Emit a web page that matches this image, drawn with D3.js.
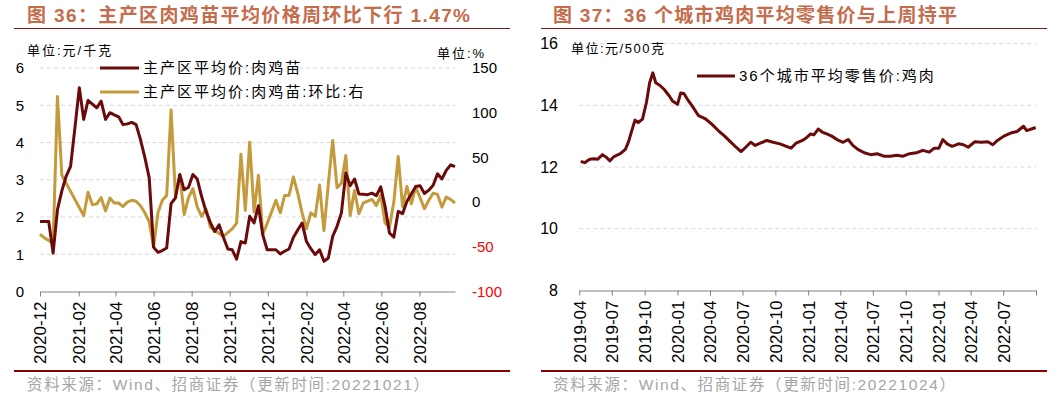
<!DOCTYPE html>
<html>
<head>
<meta charset="utf-8">
<script src="https://cdn.jsdelivr.net/npm/d3@7"></script>
<style>
  body { margin: 0; background: #fff; }
  text { font-family: "Liberation Sans", Arial, "Noto Sans CJK SC", sans-serif; }
</style>
</head>
<body>
<div class="chart"></div>
<script>
// ---- data: left chart (weekly, 主产区肉鸡苗) ----
var chickStart = "2020-12-01";
var chickPrice = [1.88, 1.88, 1.88, 1.03, 2.20, 2.70, 3.10, 3.36, 4.40, 5.47,
                  4.62, 5.13, 5.03, 4.93, 5.11, 4.62, 4.80, 4.74, 4.69, 4.48,
                  4.50, 4.54, 4.48, 4.08, 3.60, 3.05, 1.19, 1.05, 1.10, 1.17,
                  2.36, 2.51, 3.14, 2.73, 2.80, 3.14, 3.02, 2.55, 2.15, 1.85,
                  1.61, 1.79, 1.45, 1.14, 1.12, 0.87, 1.34, 1.30, 2.02, 1.84,
                  2.30, 1.52, 1.12, 1.12, 1.12, 1.01, 1.08, 1.14, 1.45, 1.65,
                  1.84, 1.34, 1.15, 0.99, 1.12, 0.81, 0.90, 1.48, 1.75, 2.11,
                  3.18, 2.84, 3.02, 2.62, 2.61, 2.60, 2.64, 2.57, 2.81, 2.28,
                  1.57, 1.46, 2.15, 2.09, 2.42, 2.62, 2.82, 2.84, 2.63, 2.72,
                  2.85, 3.16, 3.02, 3.25, 3.40, 3.35];
var chickWoW = [-36, -40, -43, -46, 118, 30, 21, 12, 3, -6,
                -15, 11, -3, -2, 5, -10, 4.5, -1, -1, -5,
                0, 2, 1, -4, -12, -22, -50, -12, 2, 7.5,
                103, 7.5, 30, -14, 5, 15, -5.6, -16, -7.4, -28,
                -32, -35, -38.5, -34, -30, -23.5, 53.5, -9.3, 67, -11,
                30, -36, -24, -11, 2, -12, 7.5, 7.5, 28, 10,
                -12, -30, -12, -16, 19, -32, 20, 69, 16, 21,
                52, -15, 13, -13, -1, 1, 3, -4, 7.5, -23.5,
                -28, 0, 51, -5, 17.6, -2, 17, 5, -7.4, 2,
                10, 8.6, -5.6, 5.6, 3, -1];
var leftTicksY = [0, 1, 2, 3, 4, 5, 6];
var rightTicksY = [-100, -50, 0, 50, 100, 150];

// ---- data: right chart (36个城市平均零售价:鸡肉) ----
var retailDates = ["2019-04-05","2019-04-16","2019-04-30","2019-05-13","2019-05-22","2019-06-05","2019-06-15","2019-06-26","2019-07-07","2019-07-25",
                   "2019-08-08","2019-08-17","2019-08-26","2019-09-04","2019-09-13","2019-09-25","2019-10-06","2019-10-15","2019-10-24","2019-11-01",
                   "2019-11-13","2019-11-25","2019-12-09","2019-12-18","2020-01-01","2020-01-10","2020-01-19","2020-01-28","2020-02-11","2020-02-29",
                   "2020-03-18","2020-04-06","2020-04-24","2020-05-12","2020-05-30","2020-06-13","2020-06-27","2020-07-10","2020-07-24","2020-08-06",
                   "2020-08-20","2020-09-07","2020-09-25","2020-10-14","2020-11-01","2020-11-14","2020-11-28","2020-12-16","2020-12-25","2021-01-08",
                   "2021-01-17","2021-01-29","2021-02-11","2021-02-22","2021-03-08","2021-03-27","2021-04-09","2021-04-23","2021-05-06","2021-05-20",
                   "2021-06-07","2021-06-25","2021-07-13","2021-08-01","2021-08-19","2021-09-06","2021-09-24","2021-10-12","2021-10-31","2021-11-18",
                   "2021-12-06","2021-12-20","2022-01-02","2022-01-13","2022-01-25","2022-02-08","2022-02-26","2022-03-12","2022-03-25","2022-04-13",
                   "2022-05-01","2022-05-19","2022-06-02","2022-06-15","2022-07-03","2022-07-22","2022-08-09","2022-08-27","2022-09-05","2022-09-30"];
var retailPrice = [12.18, 12.14, 12.25, 12.27, 12.25, 12.40, 12.32, 12.20, 12.34, 12.43,
                   12.57, 12.82, 13.18, 13.52, 13.44, 13.55, 14.09, 14.73, 15.05, 14.73,
                   14.64, 14.51, 14.30, 14.14, 14.03, 14.40, 14.38, 14.21, 13.98, 13.66,
                   13.57, 13.39, 13.18, 13.00, 12.80, 12.64, 12.50, 12.64, 12.80, 12.70,
                   12.77, 12.86, 12.80, 12.75, 12.67, 12.61, 12.77, 12.86, 12.93, 13.07,
                   13.04, 13.23, 13.12, 13.07, 13.00, 12.86, 12.80, 12.89, 12.70, 12.57,
                   12.46, 12.40, 12.43, 12.35, 12.35, 12.38, 12.35, 12.43, 12.46, 12.54,
                   12.48, 12.61, 12.61, 12.89, 12.75, 12.67, 12.75, 12.72, 12.64, 12.82,
                   12.80, 12.82, 12.72, 12.86, 13.00, 13.10, 13.15, 13.32, 13.18, 13.28];
var retailTicksY = [8, 10, 12, 14, 16];

var parseDate = d3.timeParse("%Y-%m-%d");
var fmtMonth = d3.timeFormat("%Y-%m");

var darkRed = "#6b0a0a",
    gold = "#c49a3c",
    titleColor = "#c46c4c",
    ruleColor = "#7a1a1a",
    footColor = "#a6a6a6";

var svg = d3.select(".chart")
    .append("svg")
    .attr("width", 1064)
    .attr("height", 398);

// weekly dates for the left series
var start = parseDate(chickStart);
var chickData = chickPrice.map(function(v, i) {
  return {date: d3.timeDay.offset(start, 7 * i), price: v, wow: chickWoW[i]};
});
var retailData = retailDates.map(function(d, i) {
  return {date: parseDate(d), price: retailPrice[i]};
});

// common frame: title, rule, footer
function frame(x0, x1, title, source, titleX, titleLen) {
  svg.append("text")
      .attr("x", titleX)
      .attr("y", 22)
      .attr("fill", titleColor)
      .attr("font-size", 19)
      .attr("font-weight", "bold")
      .attr("textLength", titleLen)
      .attr("lengthAdjust", "spacing")
      .text(title);
  svg.append("line")
      .attr("x1", x0).attr("x2", x1)
      .attr("y1", 28.5).attr("y2", 28.5)
      .attr("stroke", ruleColor)
      .attr("stroke-width", 1.2);
  svg.append("line")
      .attr("x1", x0).attr("x2", x1)
      .attr("y1", 371).attr("y2", 371)
      .attr("stroke", "#8b0000")
      .attr("stroke-width", 2);
  svg.append("text")
      .attr("x", titleX)
      .attr("y", 390)
      .attr("fill", footColor)
      .attr("font-size", 15.5)
      .attr("textLength", 402)
      .attr("lengthAdjust", "spacing")
      .text(source);
}

function grid(g, scale, ticks, x0, x1) {
  g.selectAll(".grid")
      .data(ticks)
      .enter().append("line")
      .attr("class", "grid")
      .attr("x1", x0).attr("x2", x1)
      .attr("y1", function(d) { return scale(d); })
      .attr("y2", function(d) { return scale(d); })
      .attr("stroke", "#d9d9d9")
      .attr("stroke-dasharray", "4,3");
}

function xAxisDraw(g, axis, y) {
  var ax = g.append("g")
      .attr("transform", "translate(0," + y + ")")
      .call(axis);
  ax.select(".domain").attr("stroke", "#808080");
  ax.selectAll(".tick line").attr("stroke", "#808080");
  ax.selectAll(".tick text")
      .attr("font-size", 17)
      .attr("fill", "#000")
      .attr("transform", "rotate(-90)")
      .attr("text-anchor", "end")
      .attr("x", -10)
      .attr("y", 0)
      .attr("dy", "0.35em");
}

// ================= left chart =================
frame(14, 510, "图 36：主产区肉鸡苗平均价格周环比下行 1.47%",
      "资料来源：Wind、招商证券（更新时间:20221021）", 27, 443);

var L = svg.append("g");
var xL = d3.scaleTime()
    .domain([parseDate("2020-12-01"), parseDate("2022-09-27")])
    .range([40, 455]);
var yL = d3.scaleLinear().domain([0, 6]).range([291.5, 68]);
var yR = d3.scaleLinear().domain([-100, 150]).range([291.5, 68]);

grid(L, yL, leftTicksY.slice(1), 40, 455);

L.selectAll(".ylab")
    .data(leftTicksY)
    .enter().append("text")
    .attr("class", "ylab")
    .attr("x", 24)
    .attr("y", function(d) { return yL(d); })
    .attr("dy", "0.35em")
    .attr("text-anchor", "end")
    .attr("font-size", 15)
    .text(function(d) { return d; });

L.selectAll(".rlab")
    .data(rightTicksY)
    .enter().append("text")
    .attr("class", "rlab")
    .attr("x", 472)
    .attr("y", function(d) { return yR(d); })
    .attr("dy", "0.35em")
    .attr("font-size", 15)
    .attr("fill", function(d) { return d < 0 ? "#ff0000" : "#000"; })
    .text(function(d) { return d; });

// bi-monthly ticks counted from 2020-12
xAxisDraw(L, d3.axisBottom(xL)
    .tickValues(d3.timeMonth.range(parseDate("2020-12-01"), parseDate("2022-09-27"), 2))
    .tickSize(5)
    .tickSizeOuter(0)
    .tickFormat(fmtMonth), 291.5);

L.append("text").attr("x", 27).attr("y", 55).attr("font-size", 13)
    .attr("letter-spacing", 2).text("单位:元/千克");
L.append("text").attr("x", 437).attr("y", 58).attr("font-size", 13)
    .attr("letter-spacing", 2).text("单位:%");

var wowLine = d3.line()
    .x(function(d) { return xL(d.date); })
    .y(function(d) { return yR(d.wow); });
var priceLine = d3.line()
    .x(function(d) { return xL(d.date); })
    .y(function(d) { return yL(d.price); });

L.append("path")
    .datum(chickData)
    .attr("d", wowLine)
    .attr("fill", "none")
    .attr("stroke", gold)
    .attr("stroke-width", 3)
    .attr("stroke-linejoin", "round");
L.append("path")
    .datum(chickData)
    .attr("d", priceLine)
    .attr("fill", "none")
    .attr("stroke", darkRed)
    .attr("stroke-width", 3)
    .attr("stroke-linejoin", "round");

// legend
var legendL = [{name: "主产区平均价:肉鸡苗", color: darkRed},
               {name: "主产区平均价:肉鸡苗:环比:右", color: gold}];
var lg = L.selectAll(".legend")
    .data(legendL)
    .enter().append("g")
    .attr("class", "legend")
    .attr("transform", function(d, i) { return "translate(0," + (68 + i * 24) + ")"; });
lg.append("line")
    .attr("x1", 100).attr("x2", 139)
    .attr("stroke", function(d) { return d.color; })
    .attr("stroke-width", 3);
lg.append("text")
    .attr("x", 143)
    .attr("dy", "0.35em")
    .attr("font-size", 15)
    .attr("letter-spacing", 2)
    .text(function(d) { return d.name; });

// ================= right chart =================
frame(541, 1047, "图 37：36 个城市鸡肉平均零售价与上周持平",
      "资料来源：Wind、招商证券（更新时间:20221024）", 553, 404);

var R = svg.append("g");
var xR2 = d3.scaleTime()
    .domain([parseDate("2019-04-01"), parseDate("2022-10-01")])
    .range([579.3, 1036]);
var yR2 = d3.scaleLinear().domain([8, 16]).range([290.5, 43.5]);

grid(R, yR2, retailTicksY.slice(1), 579.3, 1036);

R.selectAll(".ylab")
    .data(retailTicksY)
    .enter().append("text")
    .attr("class", "ylab")
    .attr("x", 558)
    .attr("y", function(d) { return yR2(d); })
    .attr("dy", "0.35em")
    .attr("text-anchor", "end")
    .attr("font-size", 16)
    .text(function(d) { return d; });

xAxisDraw(R, d3.axisBottom(xR2)
    .ticks(d3.timeMonth.every(3))
    .tickSize(5)
    .tickSizeOuter(0)
    .tickFormat(function(d) { return d >= parseDate("2022-10-01") ? "" : fmtMonth(d); }), 290.5);

R.append("text").attr("x", 571).attr("y", 53).attr("font-size", 13)
    .attr("letter-spacing", 1.5).text("单位:元/500克");

R.append("path")
    .datum(retailData)
    .attr("d", d3.line()
        .x(function(d) { return xR2(d.date); })
        .y(function(d) { return yR2(d.price); }))
    .attr("fill", "none")
    .attr("stroke", darkRed)
    .attr("stroke-width", 3)
    .attr("stroke-linejoin", "round");

R.append("line")
    .attr("x1", 697).attr("x2", 735)
    .attr("y1", 76).attr("y2", 76)
    .attr("stroke", darkRed)
    .attr("stroke-width", 3);
R.append("text")
    .attr("x", 739)
    .attr("y", 76)
    .attr("dy", "0.35em")
    .attr("font-size", 15)
    .attr("letter-spacing", 2)
    .text("36个城市平均零售价:鸡肉");
</script>
</body>
</html>
